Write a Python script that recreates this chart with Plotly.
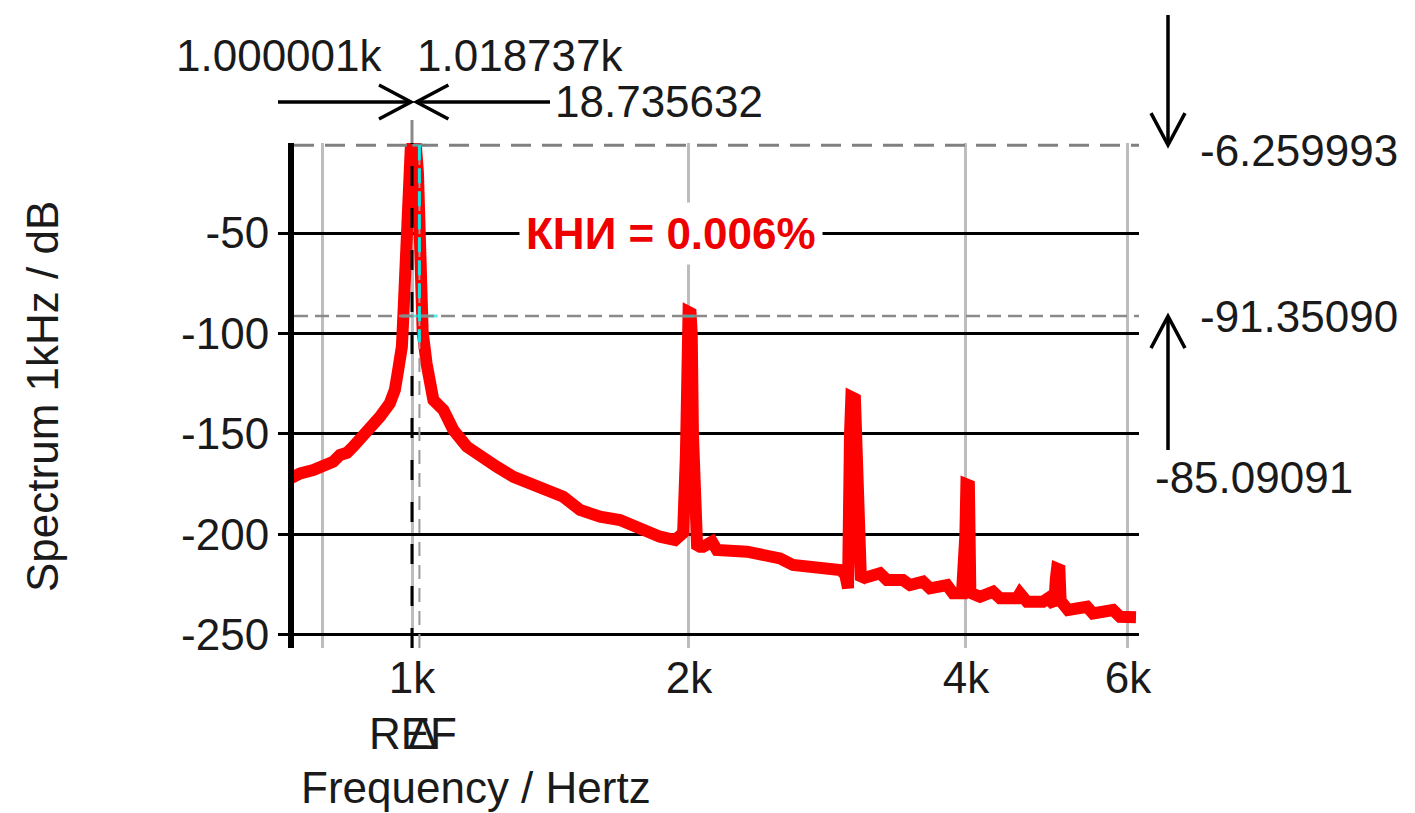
import numpy as np
import plotly.graph_objects as go

# ---------------- data ----------------
freq_hz = [739, 756, 781, 800, 821, 835, 850, 863, 885, 907, 923, 946, 958, 966, 975, 978.5,
           983, 985, 988, 992, 997, 1003, 1010, 1015, 1019, 1023, 1027, 1037, 1046, 1055,
           1082, 1109, 1147, 1186, 1236, 1289, 1344, 1401, 1460, 1523, 1601, 1683, 1770,
           1860, 1932, 1971, 1985, 1992, 1998, 2008, 2014, 2020, 2026, 2041, 2056, 2072,
           2119, 2145, 2313, 2431, 2512, 2595, 2776, 2919, 2956, 2978, 2993, 3003, 3030,
           3046, 3061, 3076, 3092, 3226, 3283, 3417, 3478, 3593, 3656, 3815, 3873, 3961,
           3995, 4005, 4030, 4045, 4144, 4281, 4357, 4546, 4580, 4661, 4852, 4913, 4990,
           5010, 5025, 5055, 5070, 5165, 5416, 5498, 5781, 5883, 6123]
level_db = [-171.9, -169.6, -168.0, -166.3, -163.8, -160.5, -159.3, -156.3, -151.4, -146.4,
            -141.4, -134.7, -128.1, -118.2, -106.6, -91.7, -73.4, -56.8, -31.9, -10.0, -7.5,
            -6.26, -7.0, -20.0, -45.0, -80.0, -99.0, -114.8, -128.1, -133.1, -138.1, -148.0,
            -156.3, -161.3, -166.3, -171.3, -174.6, -178.7, -181.2, -187.8, -191.2, -192.8,
            -197.8, -201.1, -202.8, -199.3, -160.0, -95.0, -89.3, -89.8, -100.0, -150.0,
            -200.0, -205.3, -206.1, -206.1, -203.6, -207.7, -208.6, -211.1, -211.9, -215.2,
            -216.1, -217.7, -219.7, -226.7, -150.0, -131.6, -132.5, -170.0, -222.0, -222.7,
            -221.8, -219.3, -222.7, -222.7, -225.2, -223.5, -226.8, -225.2, -229.3, -229.3,
            -200.0, -175.0, -175.5, -229.0, -231.0, -228.5, -231.8, -231.8, -229.3, -233.5,
            -233.5, -231.8, -235.0, -222.0, -217.0, -217.5, -233.0, -237.6, -236.0, -239.3,
            -237.6, -241.0, -241.2]

x_tick_vals = [800, 1000, 2000, 4000, 6000]
x_tick_text = ["", "1k", "2k", "4k", "6k"]
y_tick_vals = [-50, -100, -150, -200, -250]
y_tick_text = ["-50", "-100", "-150", "-200", "-250"]

REF_FREQ = 1000.001
DELTA_FREQ = 1018.737
REF_FREQ_TEXT = "1.000001k"
DELTA_FREQ_TEXT = "1.018737k"
FREQ_DIFF_TEXT = "18.735632"
REF_LEVEL = -6.259993
DELTA_LEVEL = -91.35090
LEVEL_DIFF = -85.09091
THD_TEXT = "КНИ = 0.006%"
HARMONIC2_FREQ = 2000

# ---------------- styling / geometry ----------------
FONT = "Liberation Sans, Arial, sans-serif"
TXT = "#1a1a1a"
FS = 44
CYAN = "#14E6E6"
L, R, T, B = 294, 276, 143, 165
W, H = 1415, 813
PW, PH = W - L - R, H - T - B
X_RANGE = [2.87174, 3.79022]
Y_RANGE = [-256.5, -5.2]


def px_x(p):
    return (p - L) / PW


def px_y(p):
    return (H - B - p) / PH


def data_px_x(f):
    return L + PW * (np.log10(f) - X_RANGE[0]) / (X_RANGE[1] - X_RANGE[0])


def data_px_y(v):
    return T + PH * (Y_RANGE[1] - v) / (Y_RANGE[1] - Y_RANGE[0])


fig = go.Figure()
fig.add_trace(go.Scatter(x=freq_hz, y=level_db, mode="lines",
                         line=dict(color="#FF0000", width=12), hoverinfo="skip",
                         showlegend=False))
fig.add_trace(go.Scatter(x=[DELTA_FREQ, DELTA_FREQ, HARMONIC2_FREQ],
                         y=[DELTA_LEVEL, REF_LEVEL, DELTA_LEVEL], mode="markers",
                         marker=dict(symbol="line-ew", size=[26, 10, 8],
                                     line=dict(width=3, color=CYAN)),
                         hoverinfo="skip", showlegend=False))

shapes = [
    dict(type="line", xref="paper", x0=0, x1=1, yref="y", y0=REF_LEVEL, y1=REF_LEVEL,
         line=dict(color="#808080", width=3, dash="20px,11px"), layer="above"),
    dict(type="line", xref="paper", x0=0, x1=1, yref="y", y0=DELTA_LEVEL, y1=DELTA_LEVEL,
         line=dict(color="#8a8a8a", width=2.5, dash="14px,7px"), layer="above"),
    dict(type="line", xref="x", x0=REF_FREQ, x1=REF_FREQ, yref="paper", y0=0, y1=1,
         line=dict(color="#000000", width=3, dash="20px,22px"), layer="above"),
    dict(type="line", xref="x", x0=DELTA_FREQ, x1=DELTA_FREQ, yref="paper", y0=0, y1=1,
         line=dict(color="#9a9a9a", width=2, dash="14px,9px"), layer="above"),
    dict(type="line", xref="x", x0=DELTA_FREQ, x1=DELTA_FREQ, yref="y",
         y0=REF_LEVEL, y1=DELTA_LEVEL - 13,
         line=dict(color=CYAN, width=3, dash="15px,8px"), layer="above"),
    dict(type="line", xref="x", x0=REF_FREQ, x1=REF_FREQ, yref="paper", y0=1, y1=px_y(120),
         line=dict(color="#8a8a8a", width=3), layer="above"),
]


def arrow(tail, tip):
    """Line + open chevron head, given in page pixels, drawn in paper coords."""
    (x0, y0), (x1, y1) = tail, tip
    dx, dy = x1 - x0, y1 - y0
    n = np.hypot(dx, dy)
    ux, uy = dx / n, dy / n
    hl, hw = 32, 17
    a1 = (x1 - ux * hl - uy * hw, y1 - uy * hl + ux * hw)
    a2 = (x1 - ux * hl + uy * hw, y1 - uy * hl - ux * hw)
    p = lambda q: f"{px_x(q[0]):.5f},{px_y(q[1]):.5f}"
    shapes.append(dict(type="path", xref="paper", yref="paper",
                       path=f"M{p(tail)} L{p(tip)}",
                       line=dict(color="#000000", width=3.5)))
    shapes.append(dict(type="path", xref="paper", yref="paper",
                       path=f"M{p(a1)} L{p(tip)} L{p(a2)}",
                       line=dict(color="#000000", width=3.5)))


ARROW_Y = 102
ARROW_X = 1168
arrow((278, ARROW_Y), (data_px_x(REF_FREQ) - 1, ARROW_Y))
arrow((550, ARROW_Y), (data_px_x(DELTA_FREQ) - 3, ARROW_Y))
arrow((ARROW_X, 15), (ARROW_X, data_px_y(REF_LEVEL)))
arrow((ARROW_X, 450), (ARROW_X, data_px_y(DELTA_LEVEL)))

ann = []


def text_ann(text, x, y, xref="paper", yref="paper", xanchor="center", yanchor="middle",
             size=FS, color=TXT, **kw):
    d = dict(text=text, x=x, y=y, xref=xref, yref=yref, xanchor=xanchor, yanchor=yanchor,
             showarrow=False, font=dict(family=FONT, size=size, color=color))
    d.update(kw)
    ann.append(d)


# top cursor readout
text_ann(REF_FREQ_TEXT, px_x(385), px_y(55), xanchor="right")
text_ann(DELTA_FREQ_TEXT, px_x(415), px_y(55), xanchor="left")
text_ann(FREQ_DIFF_TEXT, px_x(553), px_y(102), xanchor="left")

# right cursor readout
text_ann(f"{REF_LEVEL:.6f}", px_x(1198), REF_LEVEL, xanchor="left", yref="y", yshift=-5)
text_ann(f"{DELTA_LEVEL:.5f}", px_x(1198), DELTA_LEVEL, xanchor="left", yref="y")
text_ann(f"{LEVEL_DIFF:.5f}", px_x(1153), px_y(478), xanchor="left")

# THD label
text_ann(f"<b>{THD_TEXT}</b>", 3.2815, -50, xref="x", yref="y", color="#EE0000",
         bgcolor="#ffffff", borderpad=6)

# cursor names (overlapping, as in the original)
text_ann("REF", np.log10(REF_FREQ), px_y(733), xref="x", xshift=1)
text_ann("Δ", np.log10(DELTA_FREQ), px_y(733), xref="x", xshift=3)

# axis titles
text_ann("Spectrum 1kHz / dB", px_x(42), px_y(397), textangle=-90)
text_ann("Frequency / Hertz", px_x(476), px_y(787))

fig.update_layout(
    width=W, height=H,
    margin=dict(l=L, r=R, t=T, b=B, pad=0),
    paper_bgcolor="#ffffff", plot_bgcolor="#ffffff",
    font=dict(family=FONT, size=FS, color=TXT),
    shapes=shapes, annotations=ann, showlegend=False,
    xaxis=dict(type="log", range=X_RANGE, tickvals=x_tick_vals,
               ticktext=x_tick_text, showgrid=True, gridcolor="#BDBDBD", gridwidth=3,
               showline=False, zeroline=False, ticks="", tickfont=dict(size=FS, color=TXT)),
    yaxis=dict(range=Y_RANGE, tickvals=y_tick_vals, ticktext=y_tick_text,
               showgrid=True, gridcolor="#000000", gridwidth=3, zeroline=False,
               showline=True, linecolor="#000000", linewidth=6,
               ticks="outside", ticklen=10, tickwidth=3, tickcolor="#000000",
               tickfont=dict(size=FS, color=TXT)),
)

fig.write_html("out.html")
